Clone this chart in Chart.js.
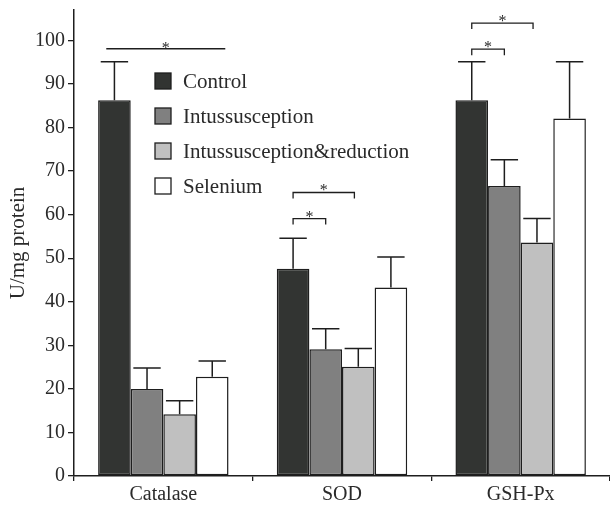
<!DOCTYPE html>
<html>
<head>
<meta charset="utf-8">
<script src="https://cdn.jsdelivr.net/npm/chart.js@4.4.0/dist/chart.umd.min.js"></script>
<style>
  html, body { margin: 0; padding: 0; background: #fff; }
  #wrap { width: 610px; height: 512px; }
</style>
</head>
<body>
<div id="wrap"><canvas id="chart1" width="610" height="512"></canvas></div>
<script>
// data
var categories = ['Catalase', 'SOD', 'GSH-Px'];
var groups = ['Control', 'Intussusception', 'Intussusception&reduction', 'Selenium'];
var colors = ['#323432', '#808080', '#c0c0c0', '#ffffff'];

var controlVals = [86.3, 47.6, 86.3];
var intussVals = [20.0, 29.1, 66.6];
var reductionVals = [14.2, 25.1, 53.6];
var seleniumVals = [22.8, 43.3, 82.1];

// upper error (SD) for each bar
var controlErr = [8.8, 7.0, 8.8];
var intussErr = [4.8, 4.7, 6.0];
var reductionErr = [3.1, 4.2, 5.5];
var seleniumErr = [3.6, 7.0, 13.0];

var yTicks = [0, 10, 20, 30, 40, 50, 60, 70, 80, 90, 100];

// significance marks: category, from group, to group, level on y axis
var sigCat = [0, 1, 1, 2, 2];
var sigFrom = [0, 0, 0, 0, 0];
var sigTo = [3, 1, 2, 1, 2];
var sigLevel = [98.1, 59.1, 65.1, 98.0, 104.0];

var values = [controlVals, intussVals, reductionVals, seleniumVals];
var errors = [controlErr, intussErr, reductionErr, seleniumErr];

var FONT = '"Liberation Serif", "DejaVu Serif", serif';
var INK = '#2a2a2a';

var datasets = groups.map(function (g, i) {
    return {
        label: g,
        data: values[i],
        errUp: errors[i],
        backgroundColor: colors[i],
        borderColor: '#1e1e1e',
        borderWidth: 1.5,
        borderSkipped: false,
        barPercentage: 1.0,
        categoryPercentage: 0.73
    };
});

// error bars (upper only)
var errorBars = {
    id: 'errorBars',
    afterDatasetsDraw: function (chart) {
        var ctx = chart.ctx, y = chart.scales.y;
        ctx.save();
        ctx.strokeStyle = '#1e1e1e';
        ctx.lineWidth = 1.5;
        chart.data.datasets.forEach(function (ds, i) {
            chart.getDatasetMeta(i).data.forEach(function (bar, j) {
                var top = y.getPixelForValue(ds.data[j] + ds.errUp[j]);
                var half = bar.width * 0.42;
                ctx.beginPath();
                ctx.moveTo(bar.x, bar.y);
                ctx.lineTo(bar.x, top);
                ctx.moveTo(bar.x - half, top);
                ctx.lineTo(bar.x + half, top);
                ctx.stroke();
            });
        });
        ctx.restore();
    }
};

// significance brackets with stars
var sigMarks = {
    id: 'sigMarks',
    afterDatasetsDraw: function (chart) {
        var ctx = chart.ctx, y = chart.scales.y;
        ctx.save();
        ctx.strokeStyle = '#1e1e1e';
        ctx.fillStyle = INK;
        ctx.lineWidth = 1.3;
        ctx.font = '16px ' + FONT;
        ctx.textAlign = 'center';
        ctx.textBaseline = 'alphabetic';
        for (var k = 0; k < sigCat.length; k++) {
            var a = chart.getDatasetMeta(sigFrom[k]).data[sigCat[k]];
            var b = chart.getDatasetMeta(sigTo[k]).data[sigCat[k]];
            var py = y.getPixelForValue(sigLevel[k]);
            ctx.beginPath();
            if (sigTo[k] - sigFrom[k] > 2) {
                // long flat line over the whole group
                var x1 = a.x - a.width * 0.25, x2 = b.x + b.width * 0.4;
                ctx.moveTo(x1, py);
                ctx.lineTo(x2, py);
                ctx.stroke();
                ctx.fillText('*', (x1 + x2) / 2, py + 4);
            } else {
                var xb = b.x - (sigTo[k] - 1) * b.width * 0.12;
                ctx.moveTo(a.x, py + 6);
                ctx.lineTo(a.x, py);
                ctx.lineTo(xb, py);
                ctx.lineTo(xb, py + 6);
                ctx.stroke();
                ctx.fillText('*', (a.x + xb) / 2, py + 3);
            }
        }
        ctx.restore();
    }
};

// legend drawn inside the plot area
var boxLegend = {
    id: 'boxLegend',
    afterDraw: function (chart) {
        var ctx = chart.ctx;
        ctx.save();
        ctx.font = '21px ' + FONT;
        ctx.textBaseline = 'middle';
        ctx.textAlign = 'left';
        chart.data.datasets.forEach(function (ds, i) {
            var cy = 81 + i * 35;
            ctx.fillStyle = ds.backgroundColor;
            ctx.fillRect(155, cy - 8, 16, 16);
            ctx.strokeStyle = '#1e1e1e';
            ctx.lineWidth = 1.3;
            ctx.strokeRect(155, cy - 8, 16, 16);
            ctx.fillStyle = INK;
            ctx.fillText(ds.label, 183, cy + 1);
        });
        ctx.restore();
    }
};

new Chart(document.getElementById('chart1'), {
    type: 'bar',
    data: { labels: categories, datasets: datasets },
    plugins: [errorBars, sigMarks, boxLegend],
    options: {
        responsive: false,
        animation: false,
        devicePixelRatio: 1,
        layout: { padding: { top: 10, right: 0, bottom: 0, left: 0 } },
        plugins: { legend: { display: false }, tooltip: { enabled: false } },
        scales: {
            x: {
                afterFit: function (s) { s.height = 36; },
                grid: { offset: true, drawOnChartArea: false, tickLength: 5, color: '#1e1e1e', lineWidth: 1.3 },
                border: { color: '#1e1e1e', width: 1.5 },
                ticks: { color: INK, font: { family: FONT, size: 20 }, padding: 2 }
            },
            y: {
                min: 0,
                max: 107,
                afterFit: function (s) { s.width = 74; s.paddingTop = 0; },
                afterBuildTicks: function (s) {
                    s.ticks = yTicks.map(function (v) { return { value: v }; });
                },
                grid: { drawOnChartArea: false, tickLength: 6, color: '#1e1e1e', lineWidth: 1.3 },
                border: { color: '#1e1e1e', width: 1.5 },
                ticks: { color: INK, font: { family: FONT, size: 20 }, padding: 3 },
                title: {
                    display: true,
                    text: 'U/mg protein',
                    color: INK,
                    font: { family: FONT, size: 21 },
                    padding: { top: 6, bottom: 0 }
                }
            }
        }
    }
});
</script>
</body>
</html>
